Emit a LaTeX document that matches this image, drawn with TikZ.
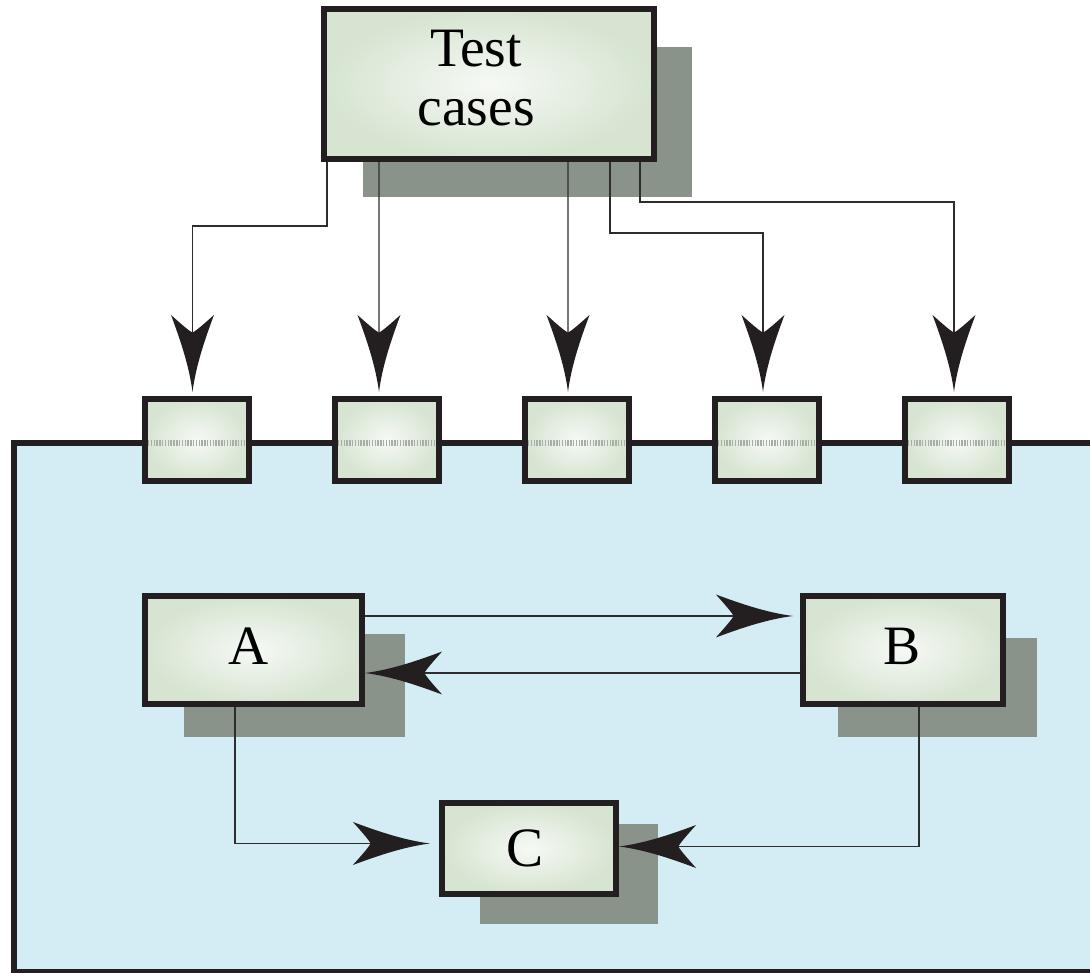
\documentclass[tikz,border=0pt]{standalone}
\usepackage{fontspec}
\setmainfont{Liberation Serif}
\usetikzlibrary{arrows.meta,shadings}
\definecolor{edge}{RGB}{35,31,32}
\definecolor{shadowc}{RGB}{137,147,137}
\definecolor{bluebg}{RGB}{212,237,244}
\definecolor{boxin}{RGB}{246,249,245}
\definecolor{boxout}{RGB}{214,228,209}
\definecolor{seam}{RGB}{168,173,168}
\definecolor{wirec}{RGB}{45,45,45}

\pgfdeclarearrow{
  name = Barbed,
  parameters = {\the\pgfarrowlength,\the\pgfarrowwidth},
  setup code = {
    \pgfarrowssettipend{0pt}
    \pgfarrowssetlineend{-0.5\pgfarrowlength}
    \pgfarrowssetbackend{-\pgfarrowlength}
    \pgfarrowssavethe\pgfarrowlength
    \pgfarrowssavethe\pgfarrowwidth
  },
  drawing code = {
    \pgfpathmoveto{\pgfqpoint{0pt}{0pt}}
    \pgfpathcurveto{\pgfqpoint{-0.35\pgfarrowlength}{0.08\pgfarrowwidth}}{\pgfqpoint{-0.7\pgfarrowlength}{0.3\pgfarrowwidth}}{\pgfqpoint{-\pgfarrowlength}{0.5\pgfarrowwidth}}
    \pgfpathcurveto{\pgfqpoint{-0.9\pgfarrowlength}{0.3\pgfarrowwidth}}{\pgfqpoint{-0.8\pgfarrowlength}{0.1\pgfarrowwidth}}{\pgfqpoint{-0.77\pgfarrowlength}{0pt}}
    \pgfpathcurveto{\pgfqpoint{-0.8\pgfarrowlength}{-0.1\pgfarrowwidth}}{\pgfqpoint{-0.9\pgfarrowlength}{-0.3\pgfarrowwidth}}{\pgfqpoint{-\pgfarrowlength}{-0.5\pgfarrowwidth}}
    \pgfpathcurveto{\pgfqpoint{-0.7\pgfarrowlength}{-0.3\pgfarrowwidth}}{\pgfqpoint{-0.35\pgfarrowlength}{-0.08\pgfarrowwidth}}{\pgfqpoint{0pt}{0pt}}
    \pgfpathclose
    \pgfusepathqfill
  },
  defaults = {length = 22pt, width = 12pt}
}

\newcommand\shifted[3]{\raisebox{#2}{\hspace*{#1}#3}}

\begin{document}
\begin{tikzpicture}[x=0.01cm,y=-0.01cm,
  box/.style={draw=edge,line width=0.06cm,inner color=boxin,outer color=boxout,inner sep=0pt,font=\fontsize{15.8}{17}\selectfont},
  port/.style={box,minimum width=1.04cm,minimum height=0.82cm},
  shadowbox/.style={fill=shadowc},
  wire/.style={draw=wirec,line width=0.012cm},
  flow/.style={wire,-{Barbed[length=0.77cm,width=0.43cm,color=edge]}},
  seamline/.style={draw=seam,line width=0.05cm,dash pattern=on 0.4pt off 0.4pt},
  frame/.style={draw=edge,line width=0.06cm}
]
\useasboundingbox (0,0) rectangle (1090,973);
\clip (0,0) rectangle (1090,973);

% system frame
\fill[bluebg] (14,443) rectangle (1100,980);
\draw[frame] (1100,443) -- (14,443) -- (14,972) -- (1100,972);

% shadows
\fill[shadowbox] (363,47) rectangle (692,197);
\fill[shadowbox] (184,634) rectangle (405,737);
\fill[shadowbox] (838,638) rectangle (1037,737);
\fill[shadowbox] (480,824) rectangle (658,924);

% nodes
\node[box,minimum width=3.3cm,minimum height=1.5cm] (tc) at (489,84)
  {\shifted{-0.26cm}{0.05cm}{\begin{tabular}{@{}c@{}}Test\\cases\end{tabular}}};
\node[box,minimum width=2.17cm,minimum height=1.08cm] (A) at (253.5,650) {\shifted{-0.1cm}{0.075cm}{A}};
\node[box,minimum width=2.00cm,minimum height=1.08cm] (B) at (903,650) {\shifted{-0.02cm}{0.075cm}{B}};
\node[box,minimum width=1.74cm,minimum height=0.91cm] (C) at (529,848.5) {\shifted{-0.08cm}{0cm}{C}};

\foreach \i/\x in {1/197,2/387,3/577,4/767,5/957}{
  \node[port] (b\i) at (\x,440) {};
  \draw[seamline] ([xshift=0.06cm,yshift=-0.03cm]b\i.west) -- ([xshift=-0.06cm,yshift=-0.03cm]b\i.east);
}

% connectors from test cases
\draw[flow] ([xshift=0.06cm]tc.south west) -- ++(0,64) -| ([xshift=-0.045cm,yshift=0.04cm]b1.north);
\draw[flow] ([xshift=0.58cm]tc.south west) -- ([xshift=-0.08cm,yshift=0.04cm]b2.north);
\draw[flow] ([xshift=2.47cm]tc.south west) -- ([xshift=-0.09cm,yshift=0.04cm]b3.north);
\draw[flow] ([xshift=2.89cm]tc.south west) -- ++(0,71) -| ([xshift=-0.04cm,yshift=0.04cm]b4.north);
\draw[flow] ([xshift=3.19cm]tc.south west) -- ++(0,40) -| ([xshift=-0.03cm,yshift=0.04cm]b5.north);

% internal connectors
\draw[flow] ([yshift=0.34cm]A.east) -- ([xshift=-0.07cm,yshift=0.34cm]B.west);
\draw[flow] ([yshift=-0.23cm]B.west) -- ([yshift=-0.23cm]A.east);
\draw[flow] ([xshift=-0.185cm]A.south) |- ([xshift=-0.09cm,yshift=0.05cm]C.west);
\draw[flow] ([xshift=0.16cm]B.south) |- ([yshift=0.02cm]C.east);
\end{tikzpicture}
\end{document}
